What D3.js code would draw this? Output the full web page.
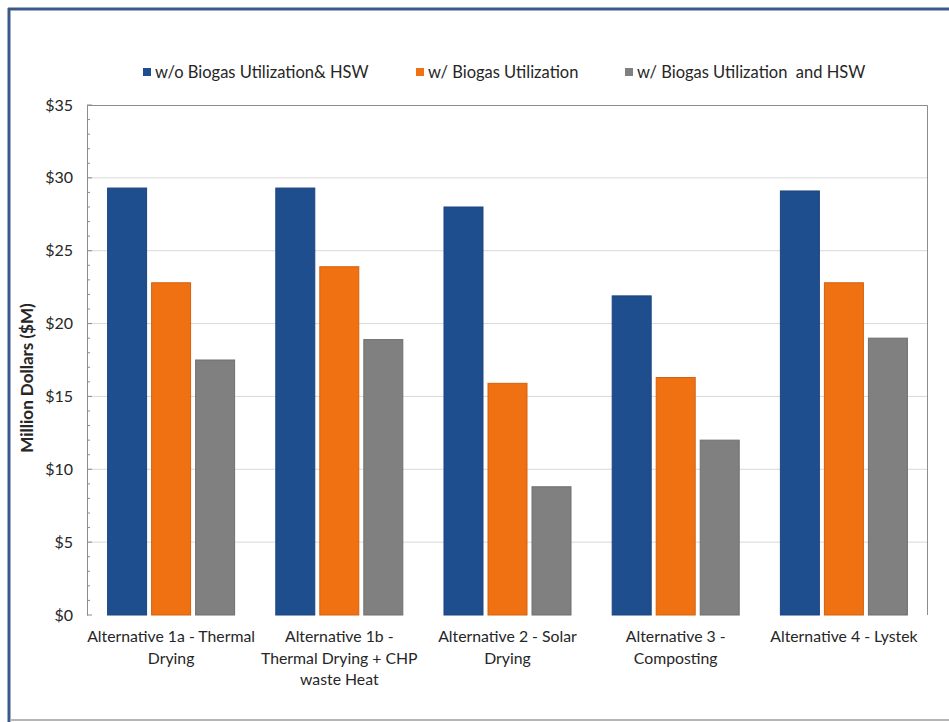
<!DOCTYPE html>
<html>
<head>
<meta charset="utf-8">
<script src="https://cdn.jsdelivr.net/npm/d3@7/dist/d3.min.js"></script>
<style>
  html, body { margin: 0; padding: 0; background: #fff; }
  svg { display: block; }
  text { font-family: Lato, "Open Sans", sans-serif; fill: #262626; }
</style>
</head>
<body>
<svg id="chart" width="949" height="722"></svg>
<script>
// Project alternatives along the x axis (each label split into lines)
const categories = [
  "Alternative 1a - Thermal Drying",
  "Alternative 1b - Thermal Drying + CHP waste Heat",
  "Alternative 2 - Solar Drying",
  "Alternative 3 - Composting",
  "Alternative 4 - Lystek"
];
const categoryLines = [
  ["Alternative 1a - Thermal", "Drying"],
  ["Alternative 1b -", "Thermal Drying + CHP", "waste Heat"],
  ["Alternative 2 - Solar", "Drying"],
  ["Alternative 3 -", "Composting"],
  ["Alternative 4 - Lystek"]
];

// Series names and values in million dollars
const seriesNames = [
  "w/o Biogas Utilization& HSW",
  "w/ Biogas Utilization",
  "w/ Biogas Utilization  and HSW"
];
const withoutBiogasHSW = [29.3, 29.3, 28.0, 21.9, 29.1];
const withBiogas       = [22.8, 23.9, 15.9, 16.3, 22.8];
const withBiogasHSW    = [17.5, 18.9, 8.8, 12.0, 19.0];
const seriesColors = ["#1f4e8f", "#f07112", "#808080"];

// Y axis ticks
const yTicks = [0, 5, 10, 15, 20, 25, 30, 35];

const seriesValues = [withoutBiogasHSW, withBiogas, withBiogasHSW];

const svg = d3.select("#chart");
const W = 949, H = 722;

// outer frame
svg.append("rect").attr("x", 0).attr("y", 0).attr("width", W).attr("height", H).attr("fill", "#fff");
svg.append("line").attr("x1", 9).attr("x2", 9).attr("y1", 8).attr("y2", 722)
  .attr("stroke", "#3b5a89").attr("stroke-width", 3);
svg.append("line").attr("x1", 8).attr("x2", 949).attr("y1", 9).attr("y2", 9)
  .attr("stroke", "#3b5a89").attr("stroke-width", 3);
svg.append("line").attr("x1", 10).attr("x2", 949).attr("y1", 720).attr("y2", 720)
  .attr("stroke", "#b5b5b5").attr("stroke-width", 2);

const plot = { left: 87, right: 928, top: 105, bottom: 615 };

const x0 = d3.scaleBand().domain(categories).range([plot.left, plot.right]).padding(0);
const x1 = d3.scaleBand().domain(d3.range(3)).range([0, x0.bandwidth()])
  .paddingInner(0.114).paddingOuter(0.468);
const y = d3.scaleLinear().domain([0, 35]).range([plot.bottom, plot.top]);

// gridlines
svg.append("g").selectAll("line").data(yTicks.filter(t => t > 0 && t < 35)).join("line")
  .attr("x1", plot.left).attr("x2", plot.right)
  .attr("y1", d => y(d)).attr("y2", d => y(d))
  .attr("stroke", "#d9d9d9").attr("stroke-width", 1);

// plot box (top and right)
svg.append("path")
  .attr("d", `M${plot.left},${plot.top + 0.5}H${plot.right - 0.5}V${plot.bottom}`)
  .attr("fill", "none").attr("stroke", "#8c8c8c").attr("stroke-width", 1);

// bars
const groups = svg.append("g").selectAll("g").data(categories).join("g")
  .attr("transform", d => `translate(${x0(d)},0)`);
groups.selectAll("rect")
  .data((d, i) => seriesValues.map((vals, s) => ({ s, v: vals[i] })))
  .join("rect")
  .attr("x", d => x1(d.s))
  .attr("width", x1.bandwidth())
  .attr("y", d => y(d.v))
  .attr("height", d => y(0) - y(d.v))
  .attr("fill", d => seriesColors[d.s])
  .attr("stroke", d => d3.color(seriesColors[d.s]).darker(0.4))
  .attr("stroke-width", 1);

// y axis with minor ticks
const yAxis = d3.axisLeft(y).tickValues(yTicks).tickFormat(d => "$" + d).tickSize(0).tickPadding(14);
const ya = svg.append("g").attr("transform", `translate(${plot.left},0)`).call(yAxis);
ya.select(".domain").attr("stroke", "#8c8c8c");
ya.selectAll("text").attr("font-size", 16).attr("fill", "#262626")
  .style("font-family", "Lato, 'Open Sans', sans-serif");
svg.append("g").selectAll("line").data(d3.range(0, 36, 1)).join("line")
  .attr("x1", plot.left).attr("x2", d => plot.left + (d % 5 === 0 ? 5 : 3))
  .attr("y1", d => y(d)).attr("y2", d => y(d))
  .attr("stroke", "#8c8c8c").attr("stroke-width", 1);

// y axis title
svg.append("text")
  .attr("transform", `translate(33,${(plot.top + plot.bottom) / 2 + 18}) rotate(-90)`)
  .attr("text-anchor", "middle")
  .attr("font-size", 17).attr("font-weight", "bold")
  .text("Million Dollars ($M)");

// category labels
const xl = svg.append("g").selectAll("text").data(categories).join("text")
  .attr("x", d => x0(d) + x0.bandwidth() / 2)
  .attr("y", 642)
  .attr("text-anchor", "middle")
  .attr("font-size", 15.8);
xl.each(function (d, i) {
  d3.select(this).selectAll("tspan").data(categoryLines[i]).join("tspan")
    .attr("x", x0(d) + x0.bandwidth() / 2)
    .attr("dy", (t, j) => j === 0 ? 0 : 21.5)
    .text(t => t);
});

// legend
const legendX = [143, 416, 625];
const lg = svg.append("g").selectAll("g").data(seriesNames).join("g")
  .attr("transform", (d, i) => `translate(${legendX[i]},72)`);
lg.append("rect").attr("x", 0).attr("y", -4).attr("width", 8).attr("height", 8)
  .attr("fill", (d, i) => seriesColors[i]);
lg.append("text").attr("x", 12).attr("y", 6).attr("font-size", 16.5)
  .attr("xml:space", "preserve").style("white-space", "pre")
  .text(d => d);
</script>
</body>
</html>
